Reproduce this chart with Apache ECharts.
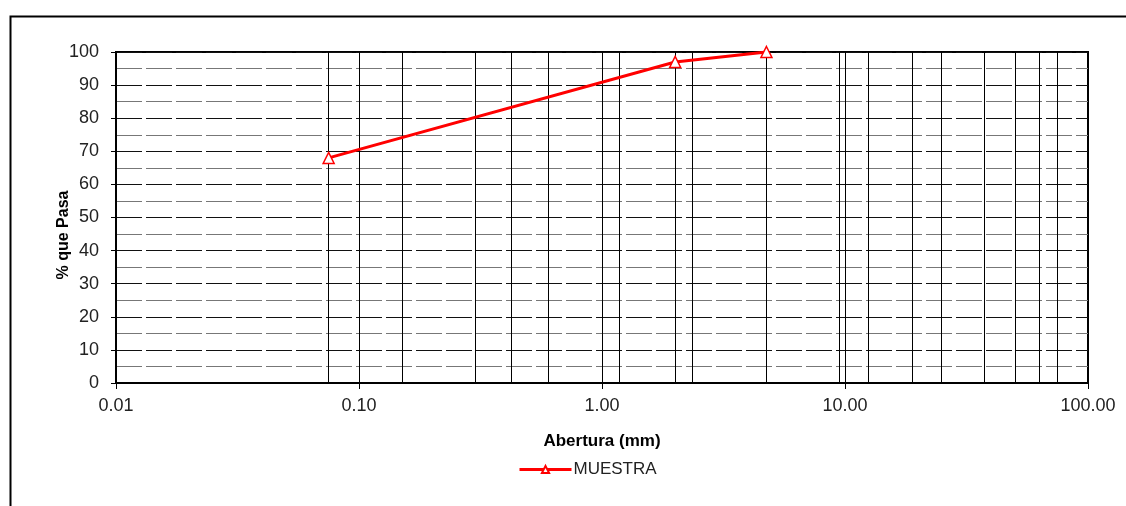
<!DOCTYPE html>
<html>
<head>
<meta charset="utf-8">
<script src="https://cdn.jsdelivr.net/npm/echarts@6/dist/echarts.min.js"></script>
<style>html,body{margin:0;padding:0;background:#fff;}#c{width:1126px;height:506px;}</style>
</head>
<body>
<div id="c"></div>
<script>
// Data
const seriesName = 'MUESTRA';
const aperture = [0.075, 2.0, 4.75];
const passing = [68, 97, 100];
const sieveSizes = [0.075, 0.15, 0.3, 0.425, 0.6, 1.18, 2.0, 2.36, 4.75, 9.5, 12.5, 19, 25, 37.5, 50, 63, 75];
const xTitle = 'Abertura (mm)';
const yTitle = '% que Pasa';
const yMin = 0, yMax = 100;

const chart = echarts.init(document.getElementById('c'), null, {renderer: 'canvas'});
const font = '"Liberation Sans", Arial, sans-serif';
chart.setOption({
  animation: false,
  backgroundColor: '#fff',
  graphic: [{
    type: 'rect', left: 8, top: 14, shape: {width: 1140, height: 520},
    style: {fill: 'none', stroke: '#000', lineWidth: 2}, silent: true, z: -1
  }, {
    type: 'text', x: 64, y: 235, rotation: Math.PI / 2, silent: true,
    style: {text: yTitle, fill: '#000', font: 'bold 16px ' + font, textAlign: 'center', textVerticalAlign: 'middle'}
  }],
  grid: {left: 116, right: 38, top: 52, bottom: 123, show: true, borderColor: '#000', borderWidth: 2, backgroundColor: 'transparent'},
  legend: {
    left: 518, top: 461, padding: 0, itemWidth: 52, itemHeight: 9, itemGap: 4,
    lineStyle: {width: 3},
    textStyle: {fontFamily: font, fontSize: 17, color: '#222', padding: [0, 0, 0, -3]},
    data: [seriesName]
  },
  xAxis: {
    type: 'log', logBase: 10, min: 0.01, max: 100,
    name: xTitle, nameLocation: 'middle', nameGap: 50,
    nameTextStyle: {fontFamily: font, fontSize: 17, fontWeight: 'bold', color: '#000'},
    axisLine: {show: true, lineStyle: {color: '#000', width: 2}},
    axisTick: {show: true, length: 6, lineStyle: {color: '#000', width: 1}},
    axisLabel: {fontFamily: font, fontSize: 18, color: '#222', margin: 14,
      formatter: v => Number(v).toFixed(2)},
    splitLine: {show: true, lineStyle: {color: '#000', width: 1}},
    minorTick: {show: false}, minorSplitLine: {show: false}
  },
  yAxis: {
    type: 'value', min: yMin, max: yMax, interval: 10,
    axisLine: {show: true, lineStyle: {color: '#000', width: 2}},
    axisTick: {show: true, length: 5, lineStyle: {color: '#000', width: 1}},
    axisLabel: {fontFamily: font, fontSize: 18, color: '#222', margin: 17},
    splitLine: {show: true, lineStyle: {color: '#111', width: 1.2, type: [26, 4]}},
    minorTick: {show: false, splitNumber: 2},
    minorSplitLine: {show: true, lineStyle: {color: '#777', width: 1.2, type: [26, 4]}}
  },
  series: [{
    name: seriesName,
    type: 'line',
    data: aperture.map((a, i) => [a, passing[i]]),
    symbol: 'triangle', symbolSize: 11,
    lineStyle: {color: '#ff0000', width: 3},
    itemStyle: {color: '#fff', borderColor: '#ff0000', borderWidth: 1.5},
    z: 5,
    markLine: {
      silent: true, symbol: 'none', animation: false,
      label: {show: false},
      lineStyle: {color: '#000', width: 1, type: 'solid'},
      data: sieveSizes.map(s => [{coord: [s, yMin]}, {coord: [s, yMax]}])
    }
  }]
});
</script>
</body>
</html>
